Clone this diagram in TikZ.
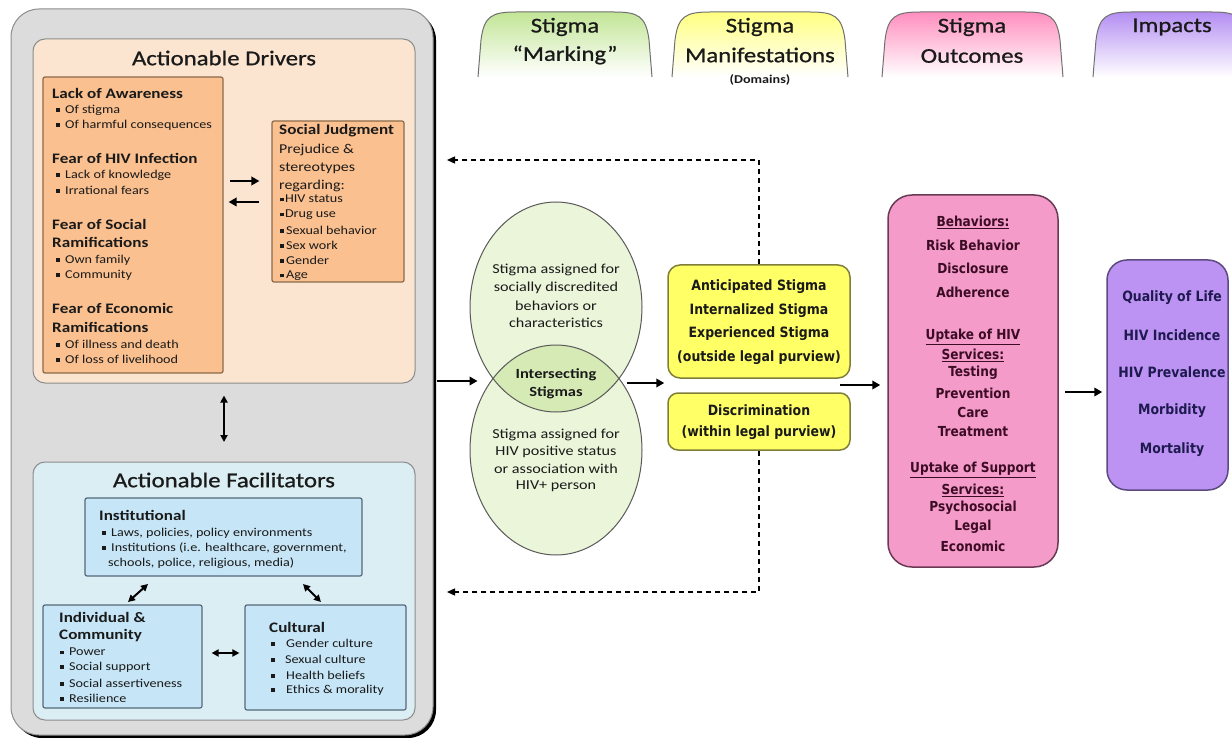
\documentclass[tikz,border=0pt]{standalone}
\usepackage{fontspec}
\setmainfont{Carlito}[FakeStretch=1.18]
\newfontfamily\hdfont{Carlito}[FakeStretch=1.18,FakeBold=0.9]
\newfontfamily\tah{DejaVu Sans}[FakeStretch=0.88]
\usetikzlibrary{arrows.meta,shapes.geometric}
\definecolor{panelgray}{HTML}{DCDCDC}
\definecolor{panelline}{HTML}{8C8C8C}
\definecolor{peach}{HTML}{FBE5D1}
\definecolor{orangebox}{HTML}{FAC08F}
\definecolor{orangeline}{HTML}{8A6A4A}
\definecolor{facil}{HTML}{DBEEF3}
\definecolor{bluebox}{HTML}{C6E5F6}
\definecolor{blueline}{HTML}{56697A}
\definecolor{ellfill}{HTML}{EBF5DA}
\definecolor{ellint}{HTML}{D6EAB6}
\definecolor{ellline}{HTML}{5A5A5A}
\definecolor{yel}{HTML}{FFFF66}
\definecolor{yelline}{HTML}{7F7F3A}
\definecolor{pinkbox}{HTML}{F49BC9}
\definecolor{pinkline}{HTML}{6A3A55}
\definecolor{pinktext}{HTML}{3C0C24}
\definecolor{purp}{HTML}{BC92F2}
\definecolor{purpline}{HTML}{5C4A80}
\definecolor{purptext}{HTML}{1E1A50}
\definecolor{tabgreen}{HTML}{C2E596}
\definecolor{tabyellow}{HTML}{FFFF80}
\definecolor{tabpink}{HTML}{FF8EBE}
\definecolor{tabpurple}{HTML}{B48EF2}
\definecolor{tabline}{HTML}{707070}
\definecolor{txt}{HTML}{1A1A1A}
\newcommand{\bul}{\rule[0.25ex]{0.3em}{0.3em}\hspace{0.45em}}
\newcommand{\drawtab}[3]{%
 \shade[top color=#3, bottom color=white] (#1,77) -- ({#1+3},40) .. controls ({#1+6},16) and ({#1+14},12) .. ({#1+38},12) -- ({#2-38},12) .. controls ({#2-14},12) and ({#2-6},16) .. ({#2-3},40) -- (#2,77) -- cycle;
 \draw[tabline, line width=1pt] (#1,77) -- ({#1+3},40) .. controls ({#1+6},16) and ({#1+14},12) .. ({#1+38},12) -- ({#2-38},12) .. controls ({#2-14},12) and ({#2-6},16) .. ({#2-3},40) -- (#2,77);}
\begin{document}
\begin{tikzpicture}[x=1pt,y=-1pt,
  arr/.style={line width=2.3pt,-{Triangle[length=8pt,width=8.5pt]}},
  darr/.style={line width=2pt,{Triangle[length=7pt,width=7pt]}-{Triangle[length=7pt,width=7pt]}},
  dashA/.style={line width=1.3pt,dash pattern=on 5pt off 4pt,-{Triangle[length=8pt,width=7pt]}},
  box/.style={draw,inner sep=0pt},
  lt/.style={anchor=west,inner sep=0pt,text=txt},
  ct/.style={inner sep=0pt},
  hd/.style={inner sep=0pt,text=txt,font=\hdfont\fontsize{21}{24}\selectfont},
  bh/.style={lt,font=\bfseries\fontsize{14.5}{16}\selectfont},
  bl/.style={lt,font=\fontsize{12}{14}\selectfont},
  sj/.style={lt,font=\fontsize{13.5}{15}\selectfont},
  ell/.style={ct,font=\fontsize{13.7}{15}\selectfont,text=txt},
  yt/.style={ct,font=\tah\bfseries\fontsize{14.2}{16}\selectfont,text=txt},
  pt/.style={ct,font=\tah\bfseries\fontsize{13.8}{16}\selectfont,text=pinktext},
  ut/.style={ct,font=\tah\bfseries\fontsize{14.2}{16}\selectfont,text=purptext}]
\useasboundingbox (0,0) rectangle (1232,738);
\fill[white] (0,0) rectangle (1232,738);
% ---------- header tabs ----------
\drawtab{478}{652}{tabgreen}
\drawtab{672}{848}{tabyellow}
\drawtab{882}{1063}{tabpink}
\drawtab{1093}{1250}{tabpurple}
\node[hd] (h1a) at (565,27) {Stigma};
\node[hd] (h1b) at (565,55) {“Marking”};
\node[hd] (h2a) at (760,27) {Stigma};
\node[hd] (h2b) at (760,55) {Manifestations};
\node[ct,text=txt,font=\bfseries\fontsize{12}{14}\selectfont] (h2c) at (760,80) {(Domains)};
\node[hd] (h3a) at (972,27) {Stigma};
\node[hd] (h3b) at (972,56) {Outcomes};
\node[hd] (h4a) at (1172,27) {Impacts};
% ---------- left panel ----------
\fill[black, rounded corners=28pt] (14,12) rectangle (436,738);
\node[box, fill=panelgray, draw=panelline, line width=1pt, rounded corners=28pt, minimum width=422pt, minimum height=726pt] (panel) at (222,372) {};
\node[box, fill=peach, draw=panelline, line width=1pt, rounded corners=12pt, minimum width=382pt, minimum height=344pt] (drivers) at (224,211) {};
\node[hd] (drt) at (224,58) {Actionable Drivers};
\node[box, fill=orangebox, draw=orangeline, line width=1.2pt, rounded corners=2pt, minimum width=180pt, minimum height=296pt] (orange) at (133,225) {};
\node[box, fill=orangebox, draw=orangeline, line width=1.2pt, rounded corners=2pt, minimum width=132pt, minimum height=161pt] (social) at (338,201.5) {};
% orange text
\node[bh] (o1) at (52,93) {Lack of Awareness};
\node[bl] (o2) at (56,110) {\bul Of stigma};
\node[bl] (o3) at (56,125) {\bul Of harmful consequences};
\node[bh] (o4) at (52,158) {Fear of HIV Infection};
\node[bl] (o5) at (56,175) {\bul Lack of knowledge};
\node[bl] (o6) at (56,190) {\bul Irrational fears};
\node[bh] (o7) at (52,224) {Fear of Social};
\node[bh] (o8) at (52,242) {Ramifications};
\node[bl] (o9) at (56,260) {\bul Own family};
\node[bl] (o10) at (56,275) {\bul Community};
\node[bh] (o11) at (52,308) {Fear of Economic};
\node[bh] (o12) at (52,327) {Ramifications};
\node[bl] (o13) at (56,344) {\bul Of illness and death};
\node[bl] (o14) at (56,359) {\bul Of loss of livelihood};
% social judgment text
\node[bh] (s1) at (279,131) {Social Judgment};
\node[sj] (s2) at (279,150) {Prejudice \&};
\node[sj] (s3) at (279,168) {stereotypes};
\node[sj] (s4) at (279,186) {regarding:};
\node[bl] (s5) at (280,199) {\rule[0.25ex]{0.3em}{0.3em}\hspace{0.1em}HIV status};
\node[bl] (s6) at (280,215) {\rule[0.25ex]{0.3em}{0.3em}\hspace{0.1em}Drug use};
\node[bl] (s7) at (280,230) {\rule[0.25ex]{0.3em}{0.3em}\hspace{0.2em}Sexual behavior};
\node[bl] (s8) at (280,245) {\rule[0.25ex]{0.3em}{0.3em}\hspace{0.2em}Sex work};
\node[bl] (s9) at (280,260) {\rule[0.25ex]{0.3em}{0.3em}\hspace{0.2em}Gender};
\node[bl] (s10) at (280,276) {\rule[0.25ex]{0.3em}{0.3em}\hspace{0.2em}Age};
% arrows between orange and social
\coordinate (ar1s) at (230,181);
\coordinate (ar2s) at (259,202);
\draw[arr] (ar1s) -- (social.west |- ar1s) [shorten >=12pt];
\draw[arr] (ar2s) -- (orange.east |- ar2s) [shorten >=5pt];
% facilitators
\node[box, fill=facil, draw=panelline, line width=1pt, rounded corners=12pt, minimum width=382pt, minimum height=258pt] (facil) at (224,591) {};
\node[hd] (fat) at (224,480) {Actionable Facilitators};
\draw[darr] (drivers.south) ++(0,12) coordinate (vda) -- (facil.north |- 0,442);
\node[box, fill=bluebox, draw=blueline, line width=1.2pt, rounded corners=2pt, minimum width=277pt, minimum height=78pt] (inst) at (223.5,537) {};
\node[box, fill=bluebox, draw=blueline, line width=1.2pt, rounded corners=2pt, minimum width=159pt, minimum height=103pt] (indiv) at (122.5,656.5) {};
\node[box, fill=bluebox, draw=blueline, line width=1.2pt, rounded corners=2pt, minimum width=161pt, minimum height=105pt] (cult) at (325.5,657.5) {};
\node[bh] (i1) at (99,515) {Institutional};
\node[bl] (i2) at (102,533) {\bul Laws, policies, policy environments};
\node[bl] (i3) at (102,548) {\bul Institutions (i.e. healthcare, government,};
\node[bl] (i4) at (108,563) {schools, police, religious, media)};
\node[bh] (c1) at (59,617) {Individual \&};
\node[bh] (c2) at (59,636) {Community};
\node[bl] (c3) at (60,652) {\bul Power};
\node[bl] (c4) at (60,667) {\bul Social support};
\node[bl] (c5) at (60,683) {\bul Social assertiveness};
\node[bl] (c6) at (60,698) {\bul Resilience};
\node[bh] (u1) at (269,627) {Cultural};
\node[bl] (u2) at (271,643) {\bul\hspace{0.5em}Gender culture};
\node[bl] (u3) at (271,659) {\bul\hspace{0.4em}Sexual culture};
\node[bl] (u4) at (271,675) {\bul\hspace{0.5em}Health beliefs};
\node[bl] (u5) at (271,690) {\bul\hspace{0.5em}Ethics \& morality};
\coordinate (dg1) at (128,602);
\coordinate (dg2) at (148,584);
\coordinate (dg3) at (303,584);
\coordinate (dg4) at (321,602);
\draw[darr] (dg1) -- (dg2);
\draw[darr] (dg3) -- (dg4);
\draw[darr] (indiv.east |- 0,653) ++(9,0) -- (cult.west |- 0,653) [shorten >=5pt];
% ---------- ellipses ----------
\fill[ellfill] (556,307) ellipse [x radius=86, y radius=105];
\fill[ellfill] (556,450) ellipse [x radius=86, y radius=105];
\begin{scope}
\clip (556,307) ellipse [x radius=86, y radius=105];
\fill[ellint] (556,450) ellipse [x radius=86, y radius=105];
\end{scope}
\node[draw=ellline, line width=1pt, ellipse, inner sep=0pt, minimum width=172pt, minimum height=210pt] (ellT) at (556,307) {};
\node[draw=ellline, line width=1pt, ellipse, inner sep=0pt, minimum width=172pt, minimum height=210pt] (ellB) at (556,450) {};
\node[ell] (e1) at (556,270) {Stigma assigned for};
\node[ell] (e2) at (556,288) {socially discredited};
\node[ell] (e3) at (556,306) {behaviors or};
\node[ell] (e4) at (556,323) {characteristics};
\node[ct,text=txt,font=\bfseries\fontsize{14}{16}\selectfont] (e5) at (556,375) {Intersecting};
\node[ct,text=txt,font=\bfseries\fontsize{14}{16}\selectfont] (e6) at (556,393) {Stigmas};
\node[ell] (e7) at (556,435) {Stigma assigned for};
\node[ell] (e8) at (556,452) {HIV positive status};
\node[ell] (e9) at (556,469) {or association with};
\node[ell] (e10) at (556,486) {HIV+ person};
\coordinate (pa) at (437,381);
\draw[arr] (pa) -- (ellB.west |- pa) [shorten >=-8pt];
% ---------- yellow ----------
\node[box, fill=yel, draw=yelline, line width=1.5pt, rounded corners=12pt, minimum width=182pt, minimum height=113pt] (y1) at (759,321.5) {};
\node[box, fill=yel, draw=yelline, line width=1.5pt, rounded corners=10pt, minimum width=182pt, minimum height=57pt] (y2) at (759,421.5) {};
\node[yt] (y1a) at (759,287) {Anticipated Stigma};
\node[yt] (y1b) at (759,311) {Internalized Stigma};
\node[yt] (y1c) at (759,334) {Experienced Stigma};
\node[yt] (y1d) at (759,358) {(outside legal purview)};
\node[yt] (y2a) at (759,410) {Discrimination};
\node[yt] (y2b) at (759,433) {(within legal purview)};
\coordinate (ey) at (627,383);
\draw[arr] (ey) -- (y1.west |- ey) [shorten >=3pt];
% dashed feedback
\coordinate (dtL) at (447,160);
\coordinate (dbL) at (447,592);
\draw[dashA] (y1.north) |- (dtL);
\draw[dashA] (y2.south) |- (dbL);
% ---------- pink ----------
\node[box, fill=pinkbox, draw=pinkline, line width=1.5pt, rounded corners=24pt, minimum width=170pt, minimum height=372pt] (pink) at (973,381) {};
\node[pt] (p1) at (973,222) {\underline{Behaviors:}};
\node[pt] (p2) at (973,245) {Risk Behavior};
\node[pt] (p3) at (973,268) {Disclosure};
\node[pt] (p4) at (973,292) {Adherence};
\node[pt] (p5) at (973,337) {\underline{Uptake of HIV}};
\node[pt] (p6) at (973,355) {\underline{Services:}};
\node[pt] (p7) at (973,373) {Testing};
\node[pt] (p8) at (973,393) {Prevention};
\node[pt] (p9) at (973,412) {Care};
\node[pt] (p10) at (973,432) {Treatment};
\node[pt] (p11) at (973,470) {\underline{Uptake of Support}};
\node[pt] (p12) at (973,490) {\underline{Services:}};
\node[pt] (p13) at (973,508) {Psychosocial};
\node[pt] (p14) at (973,527) {Legal};
\node[pt] (p15) at (973,546) {Economic};
\coordinate (yp) at (840,385);
\draw[arr] (yp) -- (pink.west |- yp) [shorten >=7pt];
% ---------- purple ----------
\node[box, fill=purp, draw=purpline, line width=1.5pt, rounded corners=20pt, minimum width=121pt, minimum height=230pt] (purple) at (1167.5,375) {};
\node[ut] (q1) at (1172,298) {Quality of Life};
\node[ut] (q2) at (1172,335) {HIV Incidence};
\node[ut] (q3) at (1172,372) {HIV Prevalence};
\node[ut] (q4) at (1172,411) {Morbidity};
\node[ut] (q5) at (1172,450) {Mortality};
\coordinate (pp) at (1065,392);
\draw[arr] (pp) -- (purple.west |- pp) [shorten >=4pt];
\end{tikzpicture}
\end{document}
